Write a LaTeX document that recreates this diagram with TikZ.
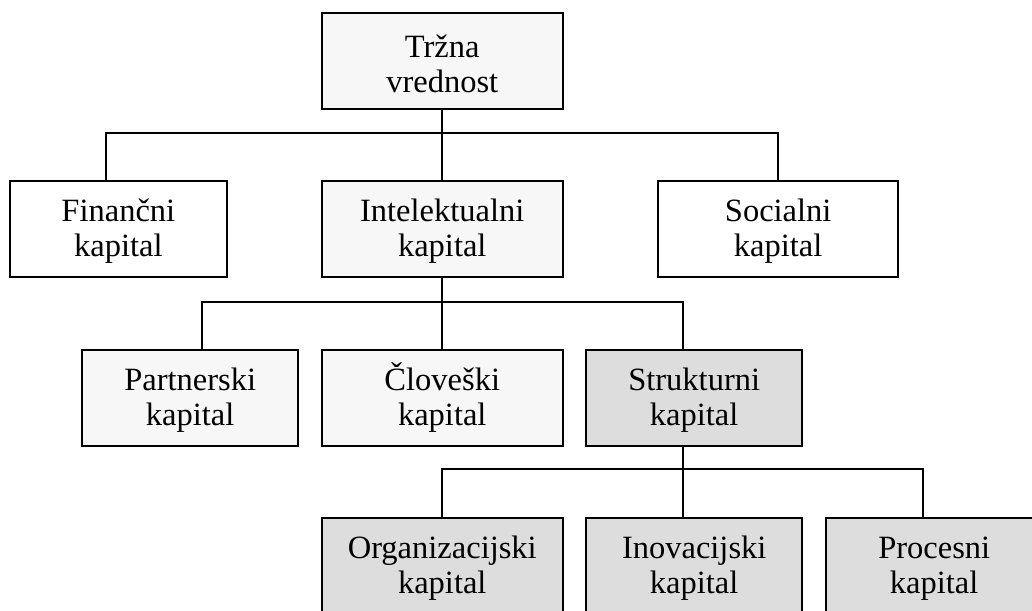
\documentclass[tikz,border=0pt]{standalone}
\usepackage{fontspec}
\setmainfont{Liberation Serif}
\definecolor{lightfill}{HTML}{F7F7F7}
\definecolor{darkfill}{HTML}{DDDDDD}
\newcommand{\topstrut}{\rule{0pt}{27pt}}
\begin{document}
\begin{tikzpicture}[x=1pt,y=-1pt,
  box/.style={draw=black, line width=2pt, rectangle, inner sep=0pt, align=center,
    minimum height=96pt, font=\fontsize{32.5}{35}\selectfont},
  wide/.style={box, minimum width=240.5pt},
  narrow/.style={box, minimum width=216.5pt},
  conn/.style={draw=black, line width=2pt, line join=miter}]
\useasboundingbox (0,0) rectangle (1032,610);
\clip (0,0) rectangle (1032,610);
% level 0
\node[wide, fill=lightfill] (T) at (442.25,61.3) {\topstrut Tržna\\vrednost};
% level 1
\node[narrow, fill=white] (F) at (118.35,229.4) {\topstrut Finančni\\kapital};
\node[wide, fill=lightfill] (I) at (442.25,229.4) {\topstrut Intelektualni\\kapital};
\node[wide, fill=white] (S) at (778.2,229.4) {\topstrut Socialni\\kapital};
% level 2
\node[narrow, fill=lightfill] (P) at (190.2,397.8) {\topstrut Partnerski\\kapital};
\node[wide, fill=lightfill] (C) at (442.25,397.8) {\topstrut Človeški\\kapital};
\node[narrow, fill=darkfill] (St) at (694.2,397.8) {\topstrut Strukturni\\kapital};
% level 3
\node[wide, fill=darkfill] (O) at (442.25,565.7) {\topstrut Organizacijski\\kapital};
\node[narrow, fill=darkfill] (In) at (694.2,565.7) {\topstrut Inovacijski\\kapital};
\node[narrow, fill=darkfill] (Pr) at (934.2,565.7) {\topstrut Procesni\\kapital};
% bus coordinates
\coordinate (b1L) at (106,133.3);
\coordinate (b1R) at (778.3,133.3);
\coordinate (b2L) at (202.3,301.7);
\coordinate (b2R) at (682.7,301.7);
\coordinate (b3L) at (442.3,469.3);
\coordinate (b3M) at (682.7,469.3);
\coordinate (b3R) at (922.7,469.3);
% connectors level 0 -> 1
\draw[conn] (T.south) -- (T.south |- b1L);
\draw[conn] (b1L |- F.north) -- (b1L) -- (b1R) -- (b1R |- S.north);
\draw[conn] (I.north) -- (I.north |- b1L);
% connectors level 1 -> 2
\draw[conn] (I.south) -- (I.south |- b2L);
\draw[conn] (b2L |- P.north) -- (b2L) -- (b2R) -- (b2R |- St.north);
\draw[conn] (C.north) -- (C.north |- b2L);
% connectors level 2 -> 3
\draw[conn] (b3M |- St.south) -- (b3M);
\draw[conn] (b3L |- O.north) -- (b3L) -- (b3R) -- (b3R |- Pr.north);
\draw[conn] (b3M) -- (b3M |- In.north);
\end{tikzpicture}
\end{document}
